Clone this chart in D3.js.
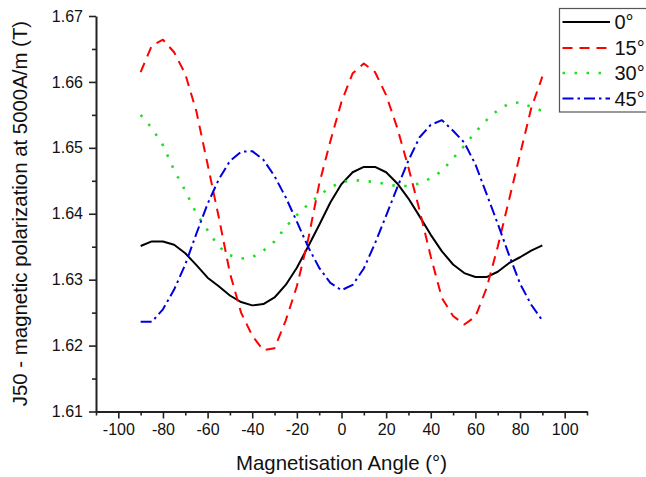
<!DOCTYPE html>
<html>
<head>
<meta charset="utf-8">
<script src="https://cdn.jsdelivr.net/npm/d3@7"></script>
<style>
  html, body { margin: 0; padding: 0; background: #fff; }
  svg { display: block; font-family: "Liberation Sans", Arial, sans-serif; }
</style>
</head>
<body>
<svg id="chart" width="646" height="477"></svg>
<script>
// ---- data ----
const angles = [-90,-85,-80,-75,-70,-65,-60,-55,-50,-45,-40,-35,-30,-25,-20,-15,-10,-5,0,5,10,15,20,25,30,35,40,45,50,55,60,65,70,75,80,85,90];
const series0 = [1.6351,1.6358,1.6358,1.6353,1.6340,1.6322,1.6303,1.6290,1.6276,1.6266,1.6261,1.6263,1.6273,1.6292,1.6318,1.6350,1.6383,1.6417,1.6445,1.6463,1.6471,1.6471,1.6463,1.6446,1.6423,1.6396,1.6368,1.6343,1.6323,1.6310,1.6304,1.6304,1.6312,1.6325,1.6334,1.6344,1.6352];
const series15 = [1.6615,1.6655,1.6664,1.6645,1.6612,1.6555,1.6475,1.6395,1.6310,1.6250,1.6215,1.6193,1.6196,1.6238,1.6290,1.6360,1.6445,1.6510,1.6570,1.6613,1.6628,1.6615,1.6580,1.6530,1.6470,1.6405,1.6335,1.6272,1.6245,1.6232,1.6244,1.6287,1.6350,1.6420,1.6490,1.6560,1.6608];
const series30 = [1.6550,1.6530,1.6504,1.6466,1.6435,1.6400,1.6375,1.6350,1.6337,1.6332,1.6334,1.6344,1.6358,1.6380,1.6398,1.6414,1.6428,1.6440,1.6448,1.6451,1.6450,1.6448,1.6445,1.6442,1.6442,1.6446,1.6454,1.6465,1.6484,1.6503,1.6524,1.6542,1.6557,1.6567,1.6569,1.6562,1.6556];
const series45 = [1.6236,1.6236,1.6255,1.6285,1.6323,1.6370,1.6415,1.6452,1.6480,1.6494,1.6495,1.6482,1.6457,1.6425,1.6388,1.6350,1.6318,1.6295,1.6284,1.6292,1.6317,1.6355,1.6397,1.6440,1.6481,1.6516,1.6535,1.6542,1.6526,1.6508,1.6475,1.6430,1.6385,1.6338,1.6294,1.6262,1.6238];
const seriesNames = ["0°","15°","30°","45°"];
const xTicksMajor = [-100,-80,-60,-40,-20,0,20,40,60,80,100];
const xTicksMinor = [-110,-90,-70,-50,-30,-10,10,30,50,70,90,110];
const yTicksMajor = [1.61,1.62,1.63,1.64,1.65,1.66,1.67];
const yTicksMinor = [1.615,1.625,1.635,1.645,1.655,1.665];
const xLabel = "Magnetisation Angle (°)";
const yLabel = "J50 - magnetic polarization at 5000A/m (T)";

// ---- styles ----
const styles = [
  {color: "#000000", dash: null},
  {color: "#ff0000", dash: "10,7"},
  {color: "#22dd22", dash: "2.5,9.5"},
  {color: "#0000dd", dash: "11,4,2.5,4"}
];

const svg = d3.select("#chart");
const x = d3.scaleLinear().domain([-110, 110]).range([96, 587]);
const y = d3.scaleLinear().domain([1.61, 1.67]).range([411.5, 16]);
const axisColor = "#222";

// curves
const allSeries = [series0, series15, series30, series45];
const line = d3.line().x(d => x(d[0])).y(d => y(d[1]));
allSeries.forEach((s, i) => {
  const pts = angles.map((a, j) => [a, s[j]]);
  svg.append("path")
    .attr("d", line(pts))
    .attr("fill", "none")
    .attr("stroke", styles[i].color)
    .attr("stroke-width", i === 2 ? 2.6 : 2)
    .attr("stroke-dasharray", styles[i].dash)
    .attr("stroke-linejoin", "round");
});

// axes
function styleAxis(g) {
  g.selectAll("path").attr("stroke", axisColor).attr("stroke-width", 2);
  g.selectAll("line").attr("stroke", axisColor).attr("stroke-width", 1.6);
  g.selectAll("text").attr("fill", "#111").attr("font-size", 16)
    .attr("font-family", "Liberation Sans, Arial, sans-serif");
}
const yAxisG = svg.append("g").attr("transform", "translate(96,0)")
  .call(d3.axisLeft(y).tickValues(yTicksMajor).tickSize(7).tickSizeOuter(0).tickPadding(6).tickFormat(d3.format(".2f")));
styleAxis(yAxisG);
const yMinorG = svg.append("g").attr("transform", "translate(96,0)")
  .call(d3.axisLeft(y).tickValues(yTicksMinor).tickSize(4).tickSizeOuter(0).tickFormat(""));
styleAxis(yMinorG);
yMinorG.select("path").remove();

const xAxisG = svg.append("g").attr("transform", "translate(0,411.5)")
  .call(d3.axisBottom(x).tickValues(xTicksMajor).tickSize(7).tickSizeOuter(0).tickPadding(5).tickFormat(d3.format("d")));
styleAxis(xAxisG);
const xMinorG = svg.append("g").attr("transform", "translate(0,411.5)")
  .call(d3.axisBottom(x).tickValues(xTicksMinor).tickSize(4).tickSizeOuter(0).tickFormat(""));
styleAxis(xMinorG);
xMinorG.select("path").remove();
xAxisG.selectAll("text").text(d => d < 0 ? "-" + Math.abs(d) : d);

// axis titles
svg.append("text")
  .attr("x", 341.5).attr("y", 470)
  .attr("text-anchor", "middle")
  .attr("font-size", 20.4).attr("fill", "#111")
  .text(xLabel);
svg.append("text")
  .attr("transform", "translate(27,213.5) rotate(-90)")
  .attr("text-anchor", "middle")
  .attr("font-size", 20.4).attr("fill", "#111")
  .text(yLabel);

// legend
const leg = svg.append("g");
leg.append("rect")
  .attr("x", 559.5).attr("y", 8.5).attr("width", 100).attr("height", 103.5)
  .attr("fill", "#fff").attr("stroke", "#555").attr("stroke-width", 1.2);
const legY = [22, 48, 73, 98.5];
seriesNames.forEach((n, i) => {
  leg.append("line")
    .attr("x1", 562.5).attr("x2", 610)
    .attr("y1", legY[i]).attr("y2", legY[i])
    .attr("stroke", styles[i].color)
    .attr("stroke-width", i === 2 ? 2.6 : 2)
    .attr("stroke-dasharray", styles[i].dash);
  leg.append("text")
    .attr("x", 614.5).attr("y", legY[i] + 7.3)
    .attr("font-size", 20).attr("fill", "#111")
    .text(n);
});
</script>
</body>
</html>
